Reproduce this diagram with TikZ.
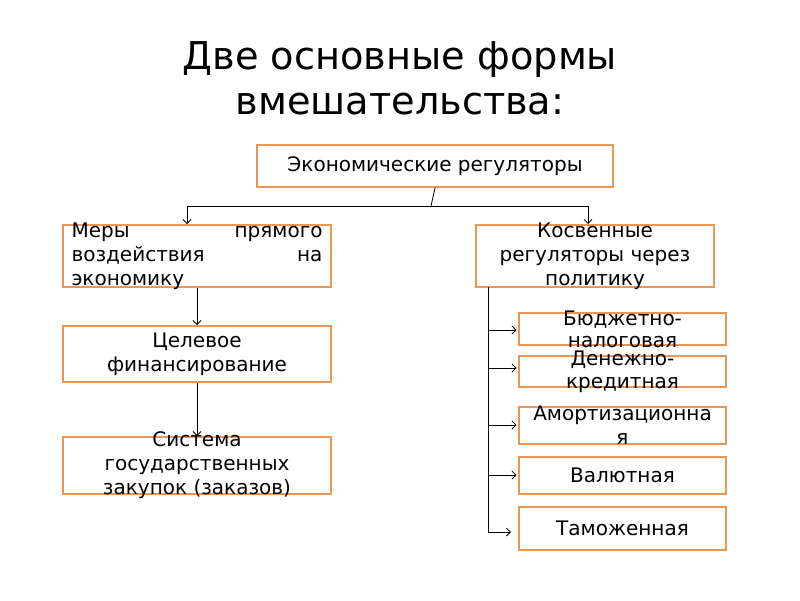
\documentclass[tikz,border=0pt]{standalone}
\usepackage{fontspec}
\setmainfont{DejaVu Sans}
\usetikzlibrary{arrows.meta}
\definecolor{boxc}{RGB}{234,150,84}
\begin{document}
\begin{tikzpicture}[x=1pt,y=-1pt,
  box/.style={draw=boxc, line width=2pt, minimum width=#1, inner sep=0pt},
  txt/.style={font=\fontsize{20}{24}\selectfont, align=center, inner sep=0pt},
  conn/.style={line width=0.8pt},
  arr/.style={line width=0.8pt, -{Straight Barb[length=4pt,width=8pt]}}]
\useasboundingbox (0,0) rectangle (800,600);
% title
\node[font=\fontsize{38.3}{45}\selectfont, align=center, inner sep=0pt] (title) at (400,78) {Две основные формы\\вмешательства:};
% boxes
\node[box=356pt, minimum height=42pt] (top) at (435,166) {};
\node[txt] (toptxt) at (top.center) {Экономические регуляторы};
\node[box=268pt, minimum height=62pt] (l1) at (197,256) {};
\node[txt, text width=251pt, align=left] (l1txt) at (l1.center) {Меры\hfill прямого\\воздействия\hfill на\\экономику};
\node[box=268pt, minimum height=56pt] (l2) at (197,354) {};
\node[txt] (l2txt) at (l2.center) {Целевое\\финансирование};
\node[box=268pt, minimum height=57pt] (l3) at (197,465.5) {};
\node[txt] (l3txt) at (l3.center) {Система\\государственных\\закупок (заказов)};
\node[box=238pt, minimum height=62pt] (r1) at (595,256) {};
\node[txt] (r1txt) at (r1.center) {Косвенные\\регуляторы через\\политику};
\node[box=207pt, minimum height=32pt] (b1) at (622.5,329) {};
\node[txt, font=\fontsize{20}{22}\selectfont] (b1txt) at (b1.center) {Бюджетно-\\налоговая};
\node[box=207pt, minimum height=31pt] (b2) at (622.5,371.5) {};
\node[txt, font=\fontsize{20}{23}\selectfont] (b2txt) at (b2.center) {Денежно-\\кредитная};
\node[box=207pt, minimum height=37pt] (b3) at (622.5,425.5) {};
\node[txt, font=\fontsize{20}{24}\selectfont] (b3txt) at (b3.center) {Амортизационна\\я};
\node[box=207pt, minimum height=37pt] (b4) at (622.5,475.5) {};
\node[txt] (b4txt) at (b4.center) {Валютная};
\node[box=207pt, minimum height=43pt] (b5) at (622.5,528.5) {};
\node[txt] (b5txt) at (b5.center) {Таможенная};
% connectors
\coordinate (jn) at (431,206);
\coordinate (jl) at (187,206);
\coordinate (jr) at (588,206);
\draw[conn] (top.south) -- (jn);
\draw[conn] (jl) -- (jr);
\draw[arr] (jl) -- (jl |- l1.north);
\draw[arr] (jr) -- (jr |- r1.north);
\draw[arr] (l1.south) -- (l2.north);
\draw[arr] (l2.south) -- (l3.north);
\coordinate (tt) at (488,287);
\coordinate (t1) at (488,330);
\coordinate (t2) at (488,368);
\coordinate (t3) at (488,425);
\coordinate (t4) at (488,475);
\coordinate (t5) at (488,532);
\draw[conn] (tt) -- (t5);
\draw[arr, shorten >=1.5pt] (t1) -- (t1 -| b1.west);
\draw[arr, shorten >=1.5pt] (t2) -- (t2 -| b2.west);
\draw[arr, shorten >=1.5pt] (t3) -- (t3 -| b3.west);
\draw[arr, shorten >=1.5pt] (t4) -- (t4 -| b4.west);
\draw[arr, shorten >=7pt] (t5) -- (t5 -| b5.west);
\end{tikzpicture}
\end{document}
